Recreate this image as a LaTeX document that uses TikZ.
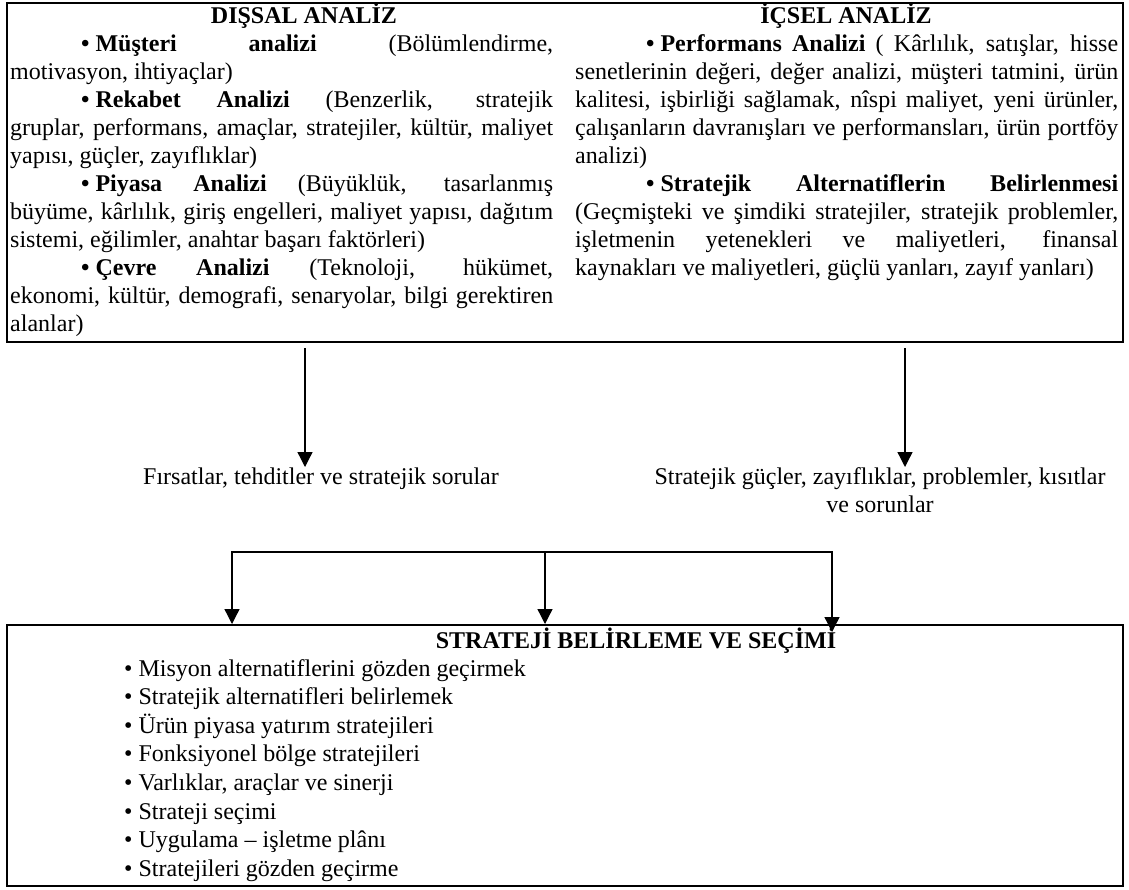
\documentclass[tikz,border=0pt]{standalone}
\usepackage{fontspec}
\setmainfont{Liberation Serif}
\usetikzlibrary{arrows.meta}
% one justified (stretched) line and one last, left-set line of a paragraph
\newcommand\jl[1]{\makebox[\linewidth][s]{#1}\par}
\newcommand\lastln[1]{\makebox[\linewidth][l]{#1}\par}
\newcommand\bul{\textbullet\kern6pt}
\begin{document}
\begin{tikzpicture}[x=1pt,y=-1pt,
  every node/.style={font=\fontsize{24}{28}\selectfont},
  frame/.style={draw, line width=2pt, inner sep=0pt, anchor=north west},
  col/.style={inner sep=0pt, anchor=base west},
  ttl/.style={inner sep=0pt, anchor=base, font=\fontsize{24}{28}\selectfont\bfseries},
  lbl/.style={inner sep=0pt, anchor=base},
  conn/.style={line width=1.3pt, -{Triangle[width=15pt,length=15pt]}},
  bracket/.style={line width=1.3pt, {Triangle[width=15pt,length=15pt]}-{Triangle[width=15pt,length=15pt]}},
]
\useasboundingbox (0,0) rectangle (1129,889);

% analysis frame and strategy frame
\node[frame, minimum width=1116pt, minimum height=339pt] (top) at (6,2) {};
\node[frame, minimum width=1116pt, minimum height=261pt] (bot) at (6,624) {};

% external analysis column
\node[ttl] (dtitle) at (304,23) {DIŞSAL ANALİZ};
\node[col] (dcol) at (10,51) {\parbox[t]{543pt}{%
\jl{\hspace*{71pt}\textbf{\bul Müşteri analizi} (Bölümlendirme,}
\lastln{motivasyon, ihtiyaçlar)}
\jl{\hspace*{71pt}\textbf{\bul Rekabet Analizi} (Benzerlik, stratejik}
\jl{gruplar, performans, amaçlar, stratejiler, kültür, maliyet}
\lastln{yapısı, güçler, zayıflıklar)}
\jl{\hspace*{71pt}\textbf{\bul Piyasa Analizi} (Büyüklük, tasarlanmış}
\jl{büyüme, kârlılık, giriş engelleri, maliyet yapısı, dağıtım}
\lastln{sistemi, eğilimler, anahtar başarı faktörleri)}
\jl{\hspace*{71pt}\textbf{\bul Çevre Analizi} (Teknoloji, hükümet,}
\jl{ekonomi, kültür, demografi, senaryolar, bilgi gerektiren}
\lastln{alanlar)}}};

% internal analysis column
\node[ttl] (ititle) at (846,23) {İÇSEL ANALİZ};
\node[col] (icol) at (575,51) {\parbox[t]{543pt}{%
\jl{\hspace*{71pt}\textbf{\bul Performans Analizi} ( Kârlılık, satışlar, hisse}
\jl{senetlerinin değeri, değer analizi, müşteri tatmini, ürün}
\jl{kalitesi, işbirliği sağlamak, nîspi maliyet, yeni ürünler,}
\jl{çalışanların davranışları ve performansları, ürün portföy}
\lastln{analizi)}
\jl{\hspace*{71pt}\textbf{\bul Stratejik Alternatiflerin Belirlenmesi}}
\jl{(Geçmişteki ve şimdiki stratejiler, stratejik problemler,}
\jl{işletmenin yetenekleri ve maliyetleri, finansal}
\lastln{kaynakları ve maliyetleri, güçlü yanları, zayıf yanları)}}};

% outcome labels
\node[lbl] (lblL) at (321,484) {Fırsatlar, tehditler ve stratejik sorular};
\node[lbl] (lblR) at (880,484) {Stratejik güçler, zayıflıklar, problemler, kısıtlar};
\node[lbl] (lblR2) at (880,512) {ve sorunlar};

% strategy choice contents
\node[ttl] (stitle) at (636,648) {STRATEJİ BELİRLEME VE SEÇİMİ};
\node[col] (slist) at (124,676) {\parbox[t]{700pt}{\baselineskip=28.6pt
\bul Misyon alternatiflerini gözden geçirmek\par
\bul Stratejik alternatifleri belirlemek\par
\bul Ürün piyasa yatırım stratejileri\par
\bul Fonksiyonel bölge stratejileri\par
\bul Varlıklar, araçlar ve sinerji\par
\bul Strateji seçimi\par
\bul Uygulama -- işletme plânı\par
\bul Stratejileri gözden geçirme}};

% arrows out of the analysis frame
\coordinate (aLs) at (305,348);
\coordinate (aLe) at (305,467);
\coordinate (aRs) at (905,348);
\coordinate (aRe) at (905,467);
\draw[conn] (aLs) -- (aLe);
\draw[conn] (aRs) -- (aRe);

% distribution bracket into the strategy frame
\coordinate (bL) at (232,552);
\coordinate (bM) at (545,552);
\coordinate (bR) at (832,552);
\draw[bracket] (bL |- bot.north) -- (bL) -- (bR) -- ([yshift=-8pt]bR |- bot.north);
\draw[conn] (bM) -- (bM |- bot.north);
\end{tikzpicture}
\end{document}
